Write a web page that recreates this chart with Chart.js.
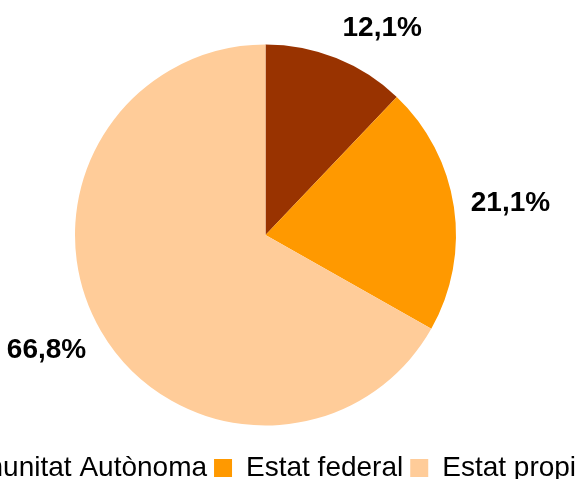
<!DOCTYPE html>
<html>
<head>
<meta charset="utf-8">
<script src="https://cdn.jsdelivr.net/npm/chart.js"></script>
<style>
  html, body { margin: 0; padding: 0; background: #fff; overflow: hidden; width: 581px; height: 479px; }
  #wrap { position: absolute; left: -95px; top: 0; }
</style>
</head>
<body>
<div id="wrap"><canvas id="pieChart" width="721" height="492"></canvas></div>
<script>
// Share by level of government (%)
const categories = ['Comunitat Autònoma', 'Estat federal', 'Estat propi'];
const shares = [12.1, 21.1, 66.8];
const sliceColors = ['#993300', '#FF9900', '#FFCC99'];

const fontFamily = '"Liberation Sans", Arial, sans-serif';

/**
 * Percentage labels placed just outside each slice
 */
const outsideLabels = {
    id: 'outsideLabels',
    afterDatasetsDraw(chart) {
        const ctx = chart.ctx;
        const meta = chart.getDatasetMeta(0);
        ctx.save();
        ctx.font = 'bold 28px ' + fontFamily;
        ctx.fillStyle = '#000';
        ctx.textAlign = 'center';
        ctx.textBaseline = 'middle';
        meta.data.forEach((arc, i) => {
            const p = arc.getProps(['x', 'y', 'startAngle', 'endAngle', 'outerRadius'], true);
            const mid = (p.startAngle + p.endAngle) / 2;
            const dx = Math.cos(mid), dy = Math.sin(mid);
            const text = shares[i].toFixed(1).replace('.', ',') + '%';
            const w = ctx.measureText(text).width;
            const h = 28;
            const off = 17;
            const ex = p.x + dx * (p.outerRadius + off);
            const ey = p.y + dy * (p.outerRadius + off);
            const fx = dx >= 0 ? 1 : -1;
            const fy = Math.sign(dy) * Math.min(1, dy * dy * 3);
            ctx.fillText(text, ex + fx * w / 2, ey + fy * h / 2);
        });
        ctx.restore();
    }
};

new Chart(document.getElementById('pieChart'), {
    type: 'pie',
    data: {
        labels: categories,
        datasets: [{
            data: shares,
            backgroundColor: sliceColors,
            borderWidth: 0
        }]
    },
    options: {
        responsive: false,
        animation: false,
        devicePixelRatio: 1,
        radius: 190.5,
        layout: { padding: { top: 23 } },
        plugins: {
            tooltip: { enabled: false },
            legend: {
                position: 'bottom',
                align: 'start',
                labels: {
                    boxWidth: 18,
                    boxHeight: 18,
                    padding: 7,
                    color: '#000',
                    font: { family: fontFamily, size: 28 }
                }
            }
        }
    },
    plugins: [outsideLabels]
});
</script>
</body>
</html>
